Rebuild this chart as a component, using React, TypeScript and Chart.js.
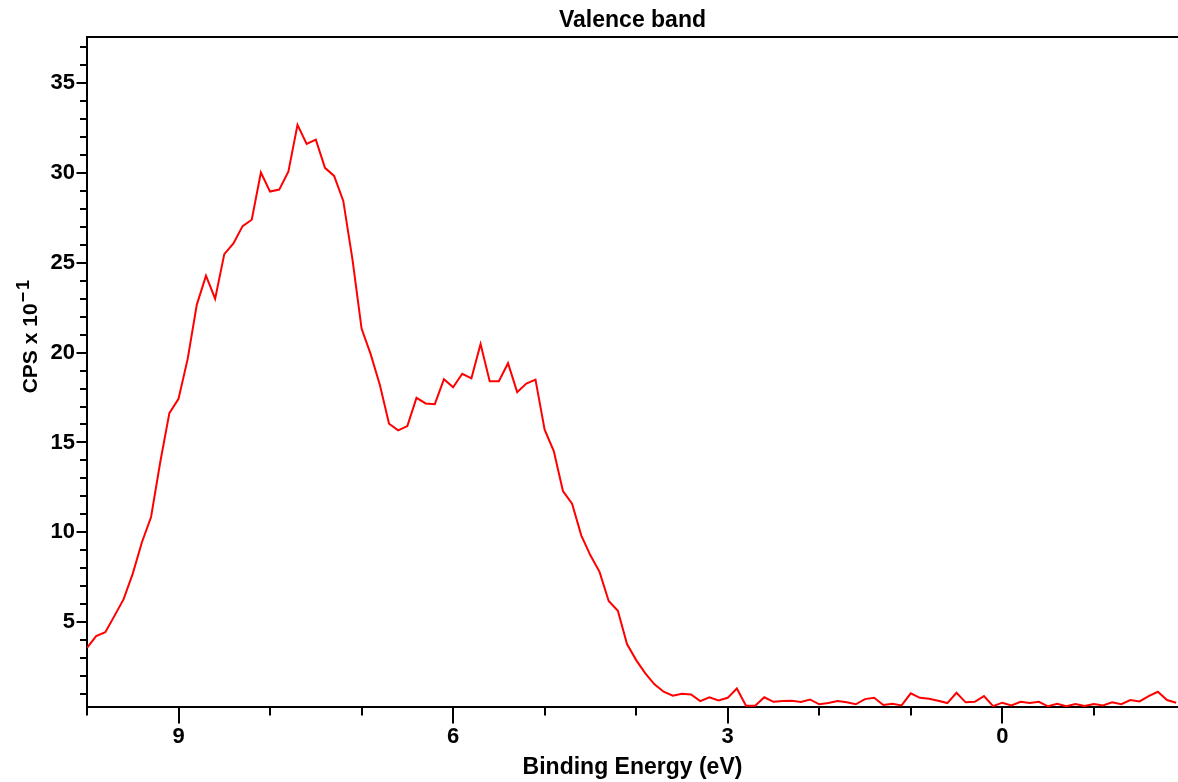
import React, { useEffect, useRef } from "react";
import { Chart, registerables } from "chart.js";

Chart.register(...registerables);

const energies = [
  10.0, 9.9, 9.8, 9.7, 9.6, 9.5, 9.4, 9.3, 9.2, 9.1,
  9.0, 8.9, 8.8, 8.7, 8.6, 8.5, 8.4, 8.3, 8.2, 8.1,
  8.0, 7.9, 7.8, 7.7, 7.6, 7.5, 7.4, 7.3, 7.2, 7.1,
  7.0, 6.9, 6.8, 6.7, 6.6, 6.5, 6.4, 6.3, 6.2, 6.1,
  6.0, 5.9, 5.8, 5.7, 5.6, 5.5, 5.4, 5.3, 5.2, 5.1,
  5.0, 4.9, 4.8, 4.7, 4.6, 4.5, 4.4, 4.3, 4.2, 4.1,
  4.0, 3.9, 3.8, 3.7, 3.6, 3.5, 3.4, 3.3, 3.2, 3.1,
  3.0, 2.9, 2.8, 2.7, 2.6, 2.5, 2.4, 2.3, 2.2, 2.1,
  2.0, 1.9, 1.8, 1.7, 1.6, 1.5, 1.4, 1.3, 1.2, 1.1,
  1.0, 0.9, 0.8, 0.7, 0.6, 0.5, 0.4, 0.3, 0.2, 0.1,
  0.0, -0.1, -0.2, -0.3, -0.4, -0.5, -0.6, -0.7, -0.8, -0.9,
  -1.0, -1.1, -1.2, -1.3, -1.4, -1.5, -1.6, -1.7, -1.8, -1.9,
];

const cps = [
  3.57, 4.22, 4.44, 5.35, 6.28, 7.7, 9.45, 10.85, 13.9, 16.63,
  17.43, 19.65, 22.67, 24.28, 23.0, 25.48, 26.07, 27.04, 27.39, 30.02,
  28.96, 29.07, 30.07, 32.67, 31.61, 31.85, 30.28, 29.83, 28.44, 25.2,
  21.34, 19.9, 18.2, 16.04, 15.67, 15.91, 17.48, 17.17, 17.13, 18.52,
  18.07, 18.82, 18.57, 20.48, 18.41, 18.41, 19.41, 17.8, 18.28, 18.5,
  15.71, 14.52, 12.3, 11.59, 9.83, 8.72, 7.8, 6.18, 5.63, 3.78,
  2.89, 2.15, 1.54, 1.13, 0.91, 1.02, 0.98, 0.61, 0.82, 0.65,
  0.79, 1.31, 0.35, 0.35, 0.82, 0.57, 0.61, 0.63, 0.56, 0.7,
  0.43, 0.5, 0.61, 0.54, 0.43, 0.72, 0.79, 0.39, 0.46, 0.37,
  1.04, 0.79, 0.74, 0.63, 0.5, 1.07, 0.54, 0.57, 0.89, 0.33,
  0.52, 0.37, 0.57, 0.5, 0.57, 0.32, 0.46, 0.32, 0.44, 0.33,
  0.44, 0.37, 0.54, 0.44, 0.67, 0.59, 0.89, 1.13, 0.67, 0.52,
];

const xTickLabels = [9, 6, 3, 0];
const yTickLabels = [5, 10, 15, 20, 25, 30, 35];
const xMinorTicks = [10, 9, 8, 7, 6, 5, 4, 3, 2, 1, 0, -1];
const yMinorTicks = [
  1, 2, 3, 4, 5, 6, 7, 8, 9, 10, 11, 12, 13, 14, 15, 16, 17, 18, 19,
  20, 21, 22, 23, 24, 25, 26, 27, 28, 29, 30, 31, 32, 33, 34, 35, 36, 37,
];

const FONT = "'Liberation Sans', Arial, sans-serif";

const axisDecor = {
  id: "axisDecor",
  afterDraw(chart: any) {
    const { ctx, chartArea, scales } = chart;
    const xs = scales.x;
    const ys = scales.y;
    ctx.save();
    ctx.strokeStyle = "#000";
    ctx.lineWidth = 2;
    ctx.lineCap = "butt";
    // top frame line
    ctx.beginPath();
    ctx.moveTo(chartArea.left - 1, chartArea.top);
    ctx.lineTo(chartArea.right, chartArea.top);
    ctx.stroke();
    // y ticks
    yMinorTicks.forEach((v) => {
      const py = Math.round(ys.getPixelForValue(v));
      const len = yTickLabels.includes(v) ? 10.5 : 7;
      ctx.beginPath();
      ctx.moveTo(chartArea.left - len, py);
      ctx.lineTo(chartArea.left, py);
      ctx.stroke();
    });
    // x ticks
    xMinorTicks.forEach((v) => {
      const px = Math.round(xs.getPixelForValue(v));
      const len = xTickLabels.includes(v) ? 16.5 : 8.5;
      ctx.beginPath();
      ctx.moveTo(px, chartArea.bottom);
      ctx.lineTo(px, chartArea.bottom + len);
      ctx.stroke();
    });
    // y axis title with superscript
    ctx.fillStyle = "#000";
    ctx.translate(37.3, 393.3);
    ctx.rotate(-Math.PI / 2);
    ctx.textAlign = "left";
    ctx.textBaseline = "alphabetic";
    ctx.font = `bold 21px ${FONT}`;
    const main = "CPS x 10";
    ctx.fillText(main, 0, 0);
    const w = ctx.measureText(main).width;
    ctx.font = `bold 18px ${FONT}`;
    ctx.fillText("\u2212", w + 1, -8);
    const mw = ctx.measureText("\u2212").width;
    ctx.fillText("1", w + mw + 3, -8);
    ctx.restore();
  },
};

export default function App() {
  const ref = useRef<HTMLCanvasElement | null>(null);

  useEffect(() => {
    if (!ref.current) return;
    const points = energies.map((e, i) => ({ x: e, y: cps[i] }));
    const chart = new Chart(ref.current, {
      type: "line",
      data: {
        datasets: [
          {
            data: points,
            borderColor: "#ff0000",
            borderWidth: 2,
            pointRadius: 0,
            tension: 0,
            fill: false,
          },
        ],
      },
      options: {
        animation: false,
        responsive: false,
        maintainAspectRatio: false,
        layout: { padding: { top: 0, left: 0, right: 0, bottom: 0 } },
        plugins: {
          legend: { display: false },
          tooltip: { enabled: false },
          title: {
            display: true,
            text: "Valence band",
            fullSize: false,
            color: "#000",
            font: { family: FONT, size: 23, weight: "bold", lineHeight: 1.2 },
            padding: { top: 6.7, bottom: 2.7 },
          },
        },
        scales: {
          x: {
            type: "linear",
            reverse: true,
            min: -1.92,
            max: 10.0,
            grid: { display: false, drawTicks: false },
            border: { display: true, color: "#000", width: 2 },
            ticks: {
              stepSize: 3,
              autoSkip: false,
              maxRotation: 0,
              padding: 17,
              color: "#000",
              font: { family: FONT, size: 22, weight: "bold", lineHeight: 1.2 },
              callback: (v: any) => (xTickLabels.includes(Number(v)) ? String(Number(v)) : ""),
            },
            title: {
              display: true,
              text: "Binding Energy (eV)",
              color: "#000",
              font: { family: FONT, size: 23, weight: "bold", lineHeight: 1.2 },
              padding: { top: 0, bottom: 1 },
            },
            afterFit: (scale: any) => {
              scale.height = 75;
              scale.paddingLeft = 0;
              scale.paddingRight = 0;
            },
          },
          y: {
            type: "linear",
            min: 0.28,
            max: 37.56,
            grid: { display: false, drawTicks: false },
            border: { display: true, color: "#000", width: 2 },
            ticks: {
              stepSize: 5,
              autoSkip: false,
              padding: 12,
              color: "#000",
              font: { family: FONT, size: 22, weight: "bold", lineHeight: 1.2 },
              callback: (v: any) => (yTickLabels.includes(Number(v)) ? String(Number(v)) : ""),
            },
            afterFit: (scale: any) => {
              scale.width = 87;
              scale.paddingTop = 0;
              scale.paddingBottom = 0;
            },
          },
        },
      },
      plugins: [axisDecor],
    });
    return () => chart.destroy();
  }, []);

  return (
    <div
      style={{
        position: "fixed",
        left: 0,
        top: 0,
        width: 1178,
        height: 782,
        background: "#fff",
      }}
    >
      <canvas ref={ref} width={1178} height={782} style={{ display: "block" }} />
    </div>
  );
}
